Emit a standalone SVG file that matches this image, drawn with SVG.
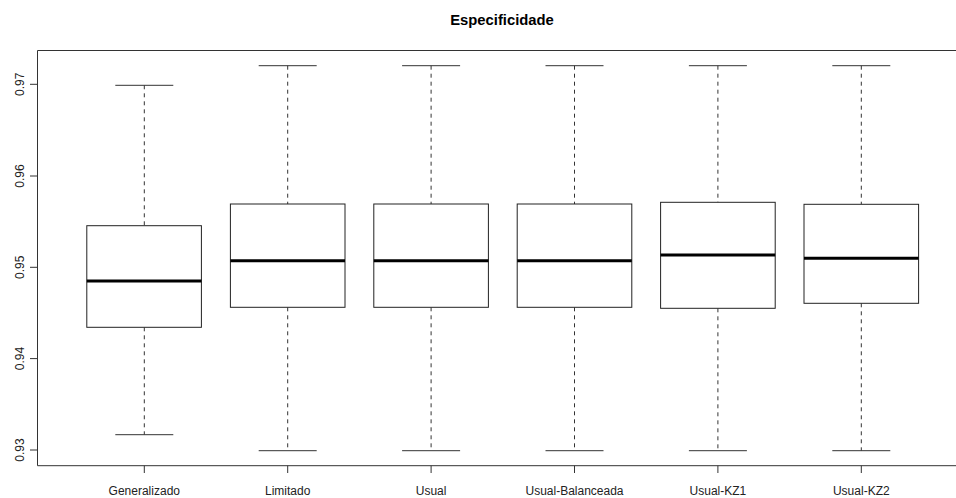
<svg xmlns="http://www.w3.org/2000/svg" width="956" height="498" viewBox="0 0 956 498">
<style>
.frame{fill:none;stroke:#333;stroke-width:1}
.box{fill:#fff;stroke:#222;stroke-width:1}
.med{stroke:#000;stroke-width:3}
.wh{stroke:#333;stroke-width:1;stroke-dasharray:4 4}
.cap{stroke:#333;stroke-width:1}
.tick{stroke:#333;stroke-width:1}
.lab{font-family:"Liberation Sans",Arial,sans-serif;font-size:12px;fill:#222}
.title{font-family:"Liberation Sans",Arial,sans-serif;font-size:14.8px;font-weight:bold;fill:#000}
</style>
<rect width="956" height="498" fill="#fff"/>
<text class="title" x="502" y="25" text-anchor="middle">Especificidade</text>
<g id="frame">
<path class="frame" d="M960 50.5H37.5V465.7H960"/>
</g>
<g id="y-axis">
<path class="tick" d="M30 84.3H37.5M30 176H37.5M30 267.3H37.5M30 358.6H37.5M30 450H37.5"/>
<text class="lab" transform="translate(24,84.3) rotate(-90)" text-anchor="middle">0.97</text>
<text class="lab" transform="translate(24,176) rotate(-90)" text-anchor="middle">0.96</text>
<text class="lab" transform="translate(24,267.3) rotate(-90)" text-anchor="middle">0.95</text>
<text class="lab" transform="translate(24,358.6) rotate(-90)" text-anchor="middle">0.94</text>
<text class="lab" transform="translate(24,450) rotate(-90)" text-anchor="middle">0.93</text>
</g>
<g id="x-axis">
<path class="tick" d="M144.3 465.7V473M287.7 465.7V473M431.1 465.7V473M574.5 465.7V473M717.9 465.7V473M861.3 465.7V473"/>
<text class="lab" x="144.3" y="494.5" text-anchor="middle">Generalizado</text>
<text class="lab" x="287.7" y="494.5" text-anchor="middle">Limitado</text>
<text class="lab" x="431.1" y="494.5" text-anchor="middle">Usual</text>
<text class="lab" x="574.5" y="494.5" text-anchor="middle">Usual-Balanceada</text>
<text class="lab" x="717.9" y="494.5" text-anchor="middle">Usual-KZ1</text>
<text class="lab" x="861.3" y="494.5" text-anchor="middle">Usual-KZ2</text>
</g>
<g id="box-generalizado">
<line class="wh" x1="144.3" y1="85.3" x2="144.3" y2="225.7"/>
<line class="wh" x1="144.3" y1="327.3" x2="144.3" y2="434.7"/>
<line class="cap" x1="115.3" y1="85.3" x2="173.3" y2="85.3"/>
<line class="cap" x1="115.3" y1="434.7" x2="173.3" y2="434.7"/>
<rect class="box" x="86.8" y="225.7" width="114.6" height="101.6"/>
<line class="med" x1="86.8" y1="281" x2="201.4" y2="281"/>
</g>
<g id="box-limitado">
<line class="wh" x1="287.7" y1="65.7" x2="287.7" y2="204"/>
<line class="wh" x1="287.7" y1="307.3" x2="287.7" y2="450.7"/>
<line class="cap" x1="258.7" y1="65.7" x2="316.7" y2="65.7"/>
<line class="cap" x1="258.7" y1="450.7" x2="316.7" y2="450.7"/>
<rect class="box" x="230.4" y="204" width="114.6" height="103.3"/>
<line class="med" x1="230.4" y1="260.7" x2="345" y2="260.7"/>
</g>
<g id="box-usual">
<line class="wh" x1="431.1" y1="65.7" x2="431.1" y2="204"/>
<line class="wh" x1="431.1" y1="307.3" x2="431.1" y2="450.7"/>
<line class="cap" x1="402.1" y1="65.7" x2="460.1" y2="65.7"/>
<line class="cap" x1="402.1" y1="450.7" x2="460.1" y2="450.7"/>
<rect class="box" x="373.8" y="204" width="114.6" height="103.3"/>
<line class="med" x1="373.8" y1="260.7" x2="488.4" y2="260.7"/>
</g>
<g id="box-usual-balanceada">
<line class="wh" x1="574.5" y1="65.7" x2="574.5" y2="204"/>
<line class="wh" x1="574.5" y1="307.3" x2="574.5" y2="450.7"/>
<line class="cap" x1="545.5" y1="65.7" x2="603.5" y2="65.7"/>
<line class="cap" x1="545.5" y1="450.7" x2="603.5" y2="450.7"/>
<rect class="box" x="517.2" y="204" width="114.6" height="103.3"/>
<line class="med" x1="517.2" y1="260.7" x2="631.8" y2="260.7"/>
</g>
<g id="box-usual-kz1">
<line class="wh" x1="717.9" y1="65.7" x2="717.9" y2="202.3"/>
<line class="wh" x1="717.9" y1="308.3" x2="717.9" y2="450.7"/>
<line class="cap" x1="688.9" y1="65.7" x2="746.9" y2="65.7"/>
<line class="cap" x1="688.9" y1="450.7" x2="746.9" y2="450.7"/>
<rect class="box" x="660.6" y="202.3" width="114.6" height="106"/>
<line class="med" x1="660.6" y1="255" x2="775.2" y2="255"/>
</g>
<g id="box-usual-kz2">
<line class="wh" x1="861.3" y1="65.7" x2="861.3" y2="204.3"/>
<line class="wh" x1="861.3" y1="303.3" x2="861.3" y2="450.7"/>
<line class="cap" x1="832.3" y1="65.7" x2="890.3" y2="65.7"/>
<line class="cap" x1="832.3" y1="450.7" x2="890.3" y2="450.7"/>
<rect class="box" x="804" y="204.3" width="114.6" height="99"/>
<line class="med" x1="804" y1="258.3" x2="918.6" y2="258.3"/>
</g>
</svg>
